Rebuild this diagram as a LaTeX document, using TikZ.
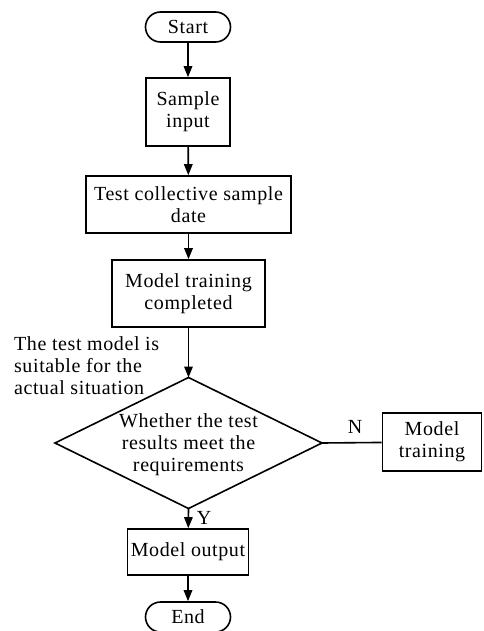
\documentclass[tikz,border=0pt]{standalone}
\usepackage{fontspec}
\setmainfont{Liberation Serif}[LetterSpace=3]
\usetikzlibrary{arrows.meta}

\tikzset{
  txt/.style={font=\fontsize{20}{22}\selectfont},
  proc/.style={txt, draw, rectangle, align=center, inner sep=0pt},
  term/.style={txt, draw, rectangle, rounded corners=15pt, inner sep=0pt,
               minimum width=85pt, minimum height=30pt},
  flow/.style={-{Triangle[length=11pt,width=8.5pt]}}
}

\begin{document}
\begin{tikzpicture}[x=1pt, y=-1pt, line width=1.6pt]
                \useasboundingbox (0,0) rectangle (483,631);
                \node[term] (start) at (188,27) {Start};
                \node[proc, minimum width=84pt, minimum height=68pt] (input) at (188,112) {Sample\\input};
                \node[proc, minimum width=205pt, minimum height=57pt] (testset) at (188.5,204.5) {Test collective sample\\date};
                \node[proc, minimum width=153pt, minimum height=67pt] (trained) at (188.5,293.5) {Model training\\completed};
                \node[txt, align=left, anchor=west] (suitable) at (10,366) {The test model is\\suitable for the\\actual situation};
                % decision diamond
                \node[txt, align=center] (check) at (188.5,445) {Whether the test\\results meet the\\requirements};
                \coordinate (checktop) at (188.5,377.5);
                \coordinate (checkbot) at (188.5,508.5);
                \coordinate (checkleft) at (55,443);
                \coordinate (checkright) at (322,443);
                \draw[line join=miter] (checktop) -- (checkright) -- (checkbot) -- (checkleft) -- cycle;
                \node[proc, minimum width=99pt, minimum height=58pt] (retrain) at (432,442) {Model\\training};
                \node[proc, minimum width=121pt, minimum height=46pt] (output) at (188,552) {Model output};
                \node[term] (end) at (188,617) {End};
                \node[txt] (no) at (355,427) {N};
                \node[txt] (yes) at (204,518) {Y};
                % connectors
                \draw[flow] (start) -- (input);
                \draw[flow] (input) -- (testset);
                \draw[flow] (testset) -- (trained);
                \draw[flow] (trained) -- (checktop);
                \draw (checkright) -- (retrain);
                \draw[flow] (checkbot) -- (output);
                \draw[flow] (output) -- (end);
            \end{tikzpicture}
\end{document}
